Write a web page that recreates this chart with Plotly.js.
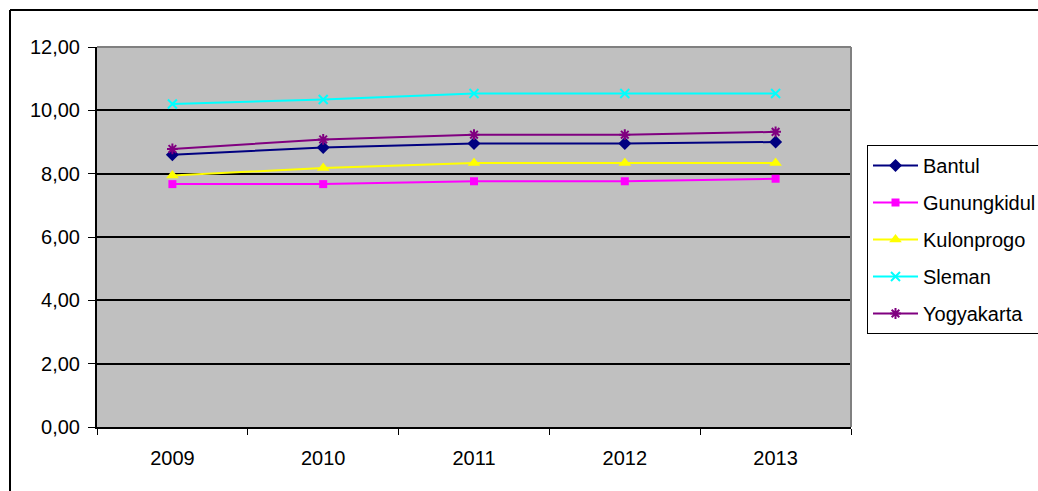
<!DOCTYPE html>
<html><head><meta charset="utf-8">
<script src="https://cdn.plot.ly/plotly-3.0.1.min.js"></script>
<style>body{margin:0;background:#fff}#chart{width:1038px;height:491px}</style>
</head><body><div id="chart"></div>
<script>
const years = ['2009','2010','2011','2012','2013'];
const bantul = [8.60, 8.83, 8.95, 8.95, 9.00];
const gunungkidul = [7.67, 7.67, 7.76, 7.76, 7.84];
const kulonprogo = [7.94, 8.18, 8.34, 8.34, 8.34];
const sleman = [10.20, 10.34, 10.53, 10.53, 10.53];
const yogyakarta = [8.78, 9.08, 9.23, 9.23, 9.32];
const yTicks = [0, 2, 4, 6, 8, 10, 12];

function tr(name, y, color, symbol, size, mline) {
  return {x: years, y: y, name: name, type: 'scatter', mode: 'lines+markers',
    legendgroup: name,
    line: {color: color, width: 2},
    marker: {symbol: symbol, size: size, color: color, line: {color: color, width: mline}}};
}
const data = [
  tr('Bantul', bantul, '#000080', 'diamond', 10, 0),
  tr('Gunungkidul', gunungkidul, '#FF00FF', 'square', 8, 0),
  tr('Kulonprogo', kulonprogo, '#FFFF00', 'triangle-up', 11, 0),
  tr('Sleman', sleman, '#00FFFF', 'x-thin-open', 9, 2),
  tr('Yogyakarta', yogyakarta, '#800080', 'asterisk-open', 9, 2)
];
const L = 97, R = 851, T = 47, B = 427;
const px = p => (p - L) / (R - L);
const py = p => (B - p) / (B - T);
const layout = {
  width: 1038, height: 491,
  margin: {l: L, r: 1038 - R, t: T, b: 491 - B, autoexpand: false},
  paper_bgcolor: '#ffffff', plot_bgcolor: '#C0C0C0',
  separators: ',.',
  font: {family: 'Liberation Sans, Arial, sans-serif', size: 20, color: '#000'},
  xaxis: {type: 'category', range: [-0.5, 4.5], showgrid: false, zeroline: false,
    showline: true, linecolor: '#000', linewidth: 2,
    ticks: 'outside', tickson: 'boundaries', ticklen: 6, tickcolor: '#000', tickwidth: 1,
    ticklabelstandoff: 12, automargin: false,
    tickfont: {size: 20}, fixedrange: true},
  yaxis: {range: [0, 12], tickvals: yTicks, tickformat: '.2f', showgrid: true,
    gridcolor: '#000', gridwidth: 2, zeroline: false,
    showline: true, linecolor: '#000', linewidth: 2,
    ticks: 'outside', ticklen: 7, tickcolor: '#000', tickwidth: 1,
    ticklabelstandoff: 4, automargin: false,
    tickfont: {size: 20}, fixedrange: true},
  showlegend: true,
  legend: {x: px(867), y: py(145), xanchor: 'left', yanchor: 'top',
    bordercolor: '#000', borderwidth: 1, bgcolor: '#fff', itemwidth: 45,
    traceorder: 'grouped', tracegroupgap: 8, font: {size: 20}},
  shapes: [
    {type: 'line', xref: 'paper', yref: 'paper', x0: 0, x1: 1, y0: 1, y1: 1, line: {color: '#808080', width: 2}},
    {type: 'line', xref: 'paper', yref: 'paper', x0: 1, x1: 1, y0: 0, y1: 1, line: {color: '#808080', width: 2}},
    {type: 'line', xref: 'paper', yref: 'paper', x0: px(10), x1: px(10), y0: py(10), y1: py(495), line: {color: '#000', width: 2}},
    {type: 'line', xref: 'paper', yref: 'paper', x0: px(10), x1: px(1040), y0: py(10), y1: py(10), line: {color: '#000', width: 2}}
  ]
};
Plotly.newPlot('chart', data, layout, {staticPlot: true});
</script></body></html>
